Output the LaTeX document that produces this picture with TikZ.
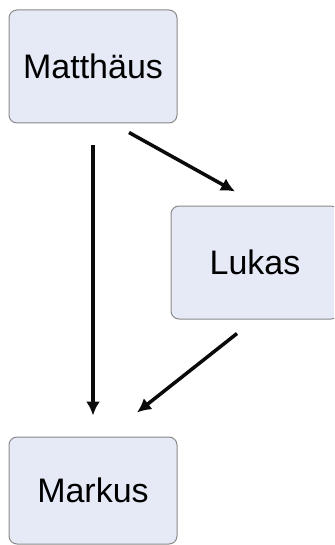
\documentclass[tikz,border=0pt]{standalone}
\usepackage{fontspec}
\setmainfont{Liberation Sans}
\usepackage{xcolor}
\usetikzlibrary{arrows.meta, positioning}
\definecolor{boxfill}{RGB}{229, 234, 246}
\definecolor{boxline}{RGB}{138, 138, 138}
\definecolor{arrowblack}{RGB}{10, 10, 10}

\begin{document}
\begin{tikzpicture}[x=1pt, y=-1pt,
    gospel/.style={rectangle, rounded corners=8pt, draw=boxline, line width=1pt, fill=boxfill, font=\fontsize{34}{40}\selectfont},
    dep/.style={-{Latex[length=14pt, width=14pt]}, line width=3.5pt, arrowblack}]
    \clip (0, 0) rectangle (334, 545);
    % Evangelien
    \node[gospel, minimum width=168pt, minimum height=113pt] (matt) at (93, 66.5) {Matthäus};
    \node[gospel, minimum width=168pt, minimum height=113pt] (luk) at (255, 262.5) {Lukas};
    \node[gospel, minimum width=168pt, minimum height=107pt] (mark) at (93, 490.5) {Markus};
    % Abhängigkeiten
    \draw[dep] ([yshift=-22pt]matt.south) -- ([yshift=21pt]mark.north);
    \draw[dep] ([xshift=36pt, yshift=-9pt]matt.south) -- ([xshift=-20pt, yshift=14pt]luk.north);
    \draw[dep] ([xshift=-18pt, yshift=-14pt]luk.south) -- ([xshift=44pt, yshift=24pt]mark.north);
\end{tikzpicture}
\end{document}
